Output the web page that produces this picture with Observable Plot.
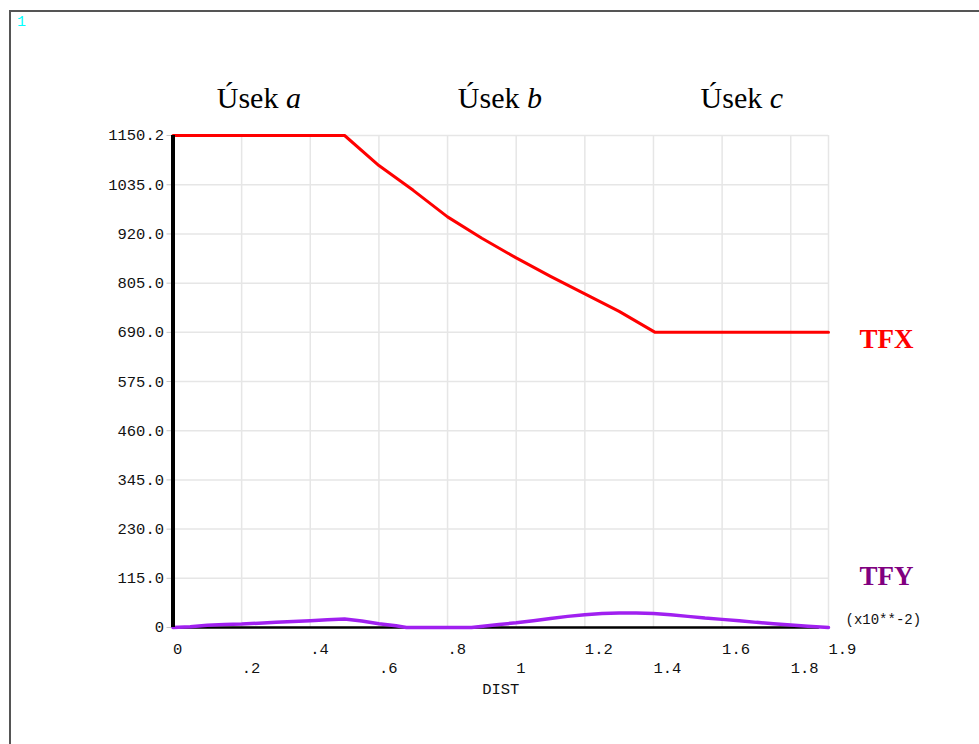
<!DOCTYPE html>
<html><head><meta charset="utf-8">
<script src="https://cdn.jsdelivr.net/npm/d3@7"></script>
<script src="https://cdn.jsdelivr.net/npm/@observablehq/plot@0.6"></script>
<style>
html,body{margin:0;padding:0;background:#fff;}
#wrap{position:relative;width:979px;height:744px;overflow:hidden;}
#frame{position:absolute;left:9px;top:10px;width:1000px;height:800px;border-left:2px solid #555;border-top:2px solid #555;}
#num{position:absolute;left:17px;top:14px;font:15px "Liberation Mono",monospace;color:#00ffff;}
#chart{position:absolute;left:0;top:0;}
</style></head><body>
<div id="wrap"><div id="frame"></div><div id="chart"></div><div id="num">1</div></div>
<script>
// ---- data ----
const distTFX = [0, 0.5, 0.6, 0.7, 0.8, 0.9, 1.0, 1.1, 1.2, 1.3, 1.405, 1.91];
const tfx     = [1150.2, 1150.2, 1080, 1022, 960, 910, 864, 821, 780, 739, 690, 690];

const distTFY = [0, 0.05, 0.1, 0.15, 0.2, 0.25, 0.3, 0.35, 0.4, 0.45, 0.5, 0.55, 0.6, 0.65, 0.68, 0.8, 0.87, 0.95, 1.0, 1.05, 1.1, 1.15, 1.2, 1.25, 1.3, 1.35, 1.4, 1.45, 1.5, 1.55, 1.6, 1.65, 1.7, 1.75, 1.8, 1.85, 1.91];
const tfy     = [0, 2, 5, 7, 8, 10, 12, 14, 16, 18, 20, 15, 9, 4, 0, 0, 0, 7, 11, 16, 21, 26, 30, 33, 34, 34, 33, 30, 26, 22, 19, 16, 12, 9, 6, 3, 0];

const distZero = [0, 1.88];
const zeroLine = [0, 0];

const xTicks = [0, 0.2, 0.4, 0.6, 0.8, 1.0, 1.2, 1.4, 1.6, 1.8, 1.91];
const xTickLabels = ["0", ".2", ".4", ".6", ".8", "1", "1.2", "1.4", "1.6", "1.8", "1.9"];
const yTicks = [0, 115, 230, 345, 460, 575, 690, 805, 920, 1035, 1150.2];
const yTickLabels = ["0", "115.0", "230.0", "345.0", "460.0", "575.0", "690.0", "805.0", "920.0", "1035.0", "1150.2"];

const segments = ["a", "b", "c"];
const segBounds = [0, 0.5, 1.405, 1.91];

// ---- build ----
const mono = "'Liberation Mono', monospace";
const serif = "'Liberation Serif', 'Times New Roman', serif";
const xMax = xTicks[xTicks.length - 1];
const yMax = yTicks[yTicks.length - 1];
const tfxData = distTFX.map((d, i) => ({d, v: tfx[i]}));
const tfyData = distTFY.map((d, i) => ({d, v: tfy[i]}));
const zeroData = distZero.map((d, i) => ({d, v: zeroLine[i]}));
const segData = segments.map((s, i) => ({s, c: (segBounds[i] + segBounds[i + 1]) / 2}));
const upper = xTicks.filter((d, i) => i % 2 === 0);
const lower = xTicks.filter((d, i) => i % 2 === 1);
const xfmt = d => xTickLabels[xTicks.indexOf(d)];
const yfmt = d => yTickLabels[yTicks.indexOf(d)];

const chart = Plot.plot({
  width: 979, height: 744,
  marginLeft: 172.5, marginRight: 151, marginTop: 135, marginBottom: 117,
  x: {domain: [0, xMax], label: null},
  y: {domain: [0, yMax], label: null},
  style: {background: "transparent", fontFamily: mono},
  marks: [
    Plot.ruleX(xTicks.slice(1), {y1: 0, y2: yMax, stroke: "#e6e6e6", strokeWidth: 1.5}),
    Plot.ruleY(yTicks.slice(1), {x1: 0, x2: xMax, stroke: "#e6e6e6", strokeWidth: 1.5}),
    Plot.axisY({ticks: yTicks, tickFormat: yfmt, tickSize: 6, tickPadding: 3, stroke: "#c8c8c8", fill: "#111", fontSize: 15.5, fontFamily: mono, label: null}),
    Plot.axisX({ticks: upper, tickFormat: xfmt, tickSize: 0, tickPadding: 15, textAnchor: "start", fill: "#111", fontSize: 15.5, fontFamily: mono, label: null}),
    Plot.axisX({ticks: lower, tickFormat: xfmt, tickSize: 0, tickPadding: 34, textAnchor: "start", fill: "#111", fontSize: 15.5, fontFamily: mono, label: null}),
    Plot.line(zeroData, {x: "d", y: "v", stroke: "#000", strokeWidth: 2.5}),
    Plot.line(tfyData, {x: "d", y: "v", stroke: "#a020f0", strokeWidth: 3.5}),
    Plot.line(tfxData, {x: "d", y: "v", stroke: "#ff0000", strokeWidth: 3}),
    Plot.ruleX([0], {y1: 0, y2: yMax, stroke: "#000", strokeWidth: 4}),
    Plot.text(segData, {x: "c", y: () => yMax, dy: -37, text: d => "Úsek " + d.s, fontFamily: serif, fontSize: 30, fill: "#000"}),
    Plot.text([tfxData[tfxData.length - 1]], {x: "d", y: "v", dx: 31, dy: 7, text: () => "TFX", textAnchor: "start", fontFamily: serif, fontWeight: "bold", fontSize: 27, fill: "#ff0000"}),
    Plot.text([tfyData[tfyData.length - 1]], {x: "d", y: "v", dx: 31, dy: -51, text: () => "TFY", textAnchor: "start", fontFamily: serif, fontWeight: "bold", fontSize: 27, fill: "#800080"}),
    Plot.text([tfyData[tfyData.length - 1]], {x: "d", y: "v", dx: 17, dy: -8, text: () => "(x10**-2)", textAnchor: "start", fontFamily: mono, fontSize: 14, fill: "#111"}),
    Plot.text([{d: xMax / 2, v: 0}], {x: "d", y: "v", dy: 62, text: () => "DIST", fontFamily: mono, fontSize: 15.5, fill: "#111"})
  ]
});
document.getElementById("chart").appendChild(chart);

// italic segment letters
d3.select(chart).selectAll("text").filter(function() { return /^Úsek [abc]$/.test(this.textContent); })
  .each(function() {
    const t = d3.select(this);
    const letter = this.textContent.slice(-1);
    t.text("Úsek ");
    t.append("tspan").attr("font-style", "italic").text(letter);
  });
</script>
</body></html>
